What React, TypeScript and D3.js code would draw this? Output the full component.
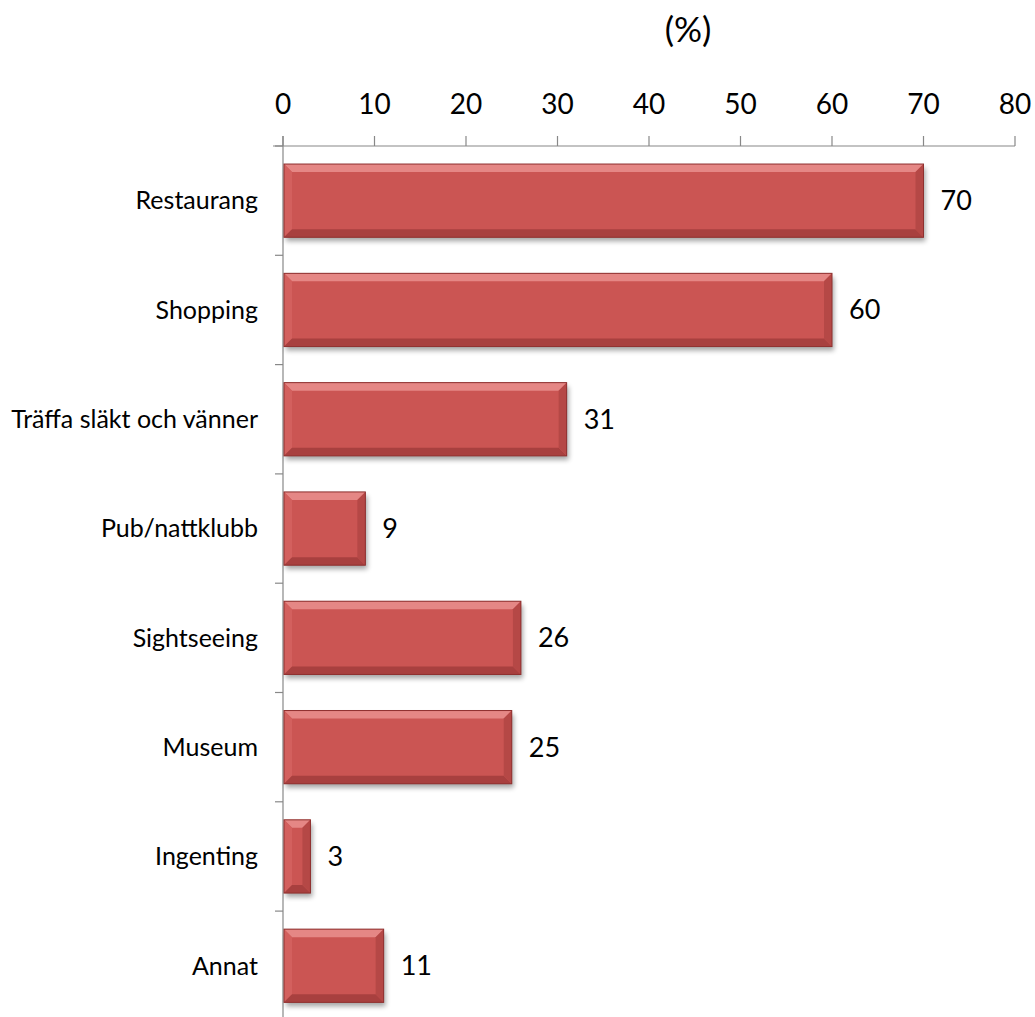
import React from "react";
import * as d3 from "d3";

const categories = ["Restaurang", "Shopping", "Träffa släkt och vänner", "Pub/nattklubb", "Sightseeing", "Museum", "Ingenting", "Annat"];
const values = [70, 60, 31, 9, 26, 25, 3, 11];
const xTicks = [0, 10, 20, 30, 40, 50, 60, 70, 80];
const title = "(%)";

export default function App() {
  const W = 1035, H = 1017;
  const x = d3.scaleLinear().domain([0, 80]).range([283, 1015]);
  const y = d3.scaleBand<string>().domain(categories).range([146, 146 + 8 * 109.3]).paddingInner(0.33).paddingOuter(0.165);
  const font = "Lato, 'Open Sans', sans-serif";
  const b = 8;
  return (
    <svg width={W} height={H} style={{ position: "absolute", left: 0, top: 0, background: "#fff" }}>
      <defs>
        <filter id="sh" x="-10%" y="-20%" width="130%" height="160%">
          <feGaussianBlur stdDeviation="2.5" />
        </filter>
      </defs>
      <text x={688} y={42} fontFamily={font} fontSize={35} textAnchor="middle" fill="#000">{title}</text>
      {xTicks.map(t => (
        <g key={t}>
          <text x={x(t)} y={114} fontFamily={font} fontSize={28} textAnchor="middle" fill="#000">{t}</text>
          <line x1={x(t)} x2={x(t)} y1={136} y2={146} stroke="#888" strokeWidth={1.2} />
        </g>
      ))}
      <line x1={x(0) - 10} x2={x(80)} y1={146} y2={146} stroke="#888" strokeWidth={1.2} />
      <line x1={x(0)} x2={x(0)} y1={136} y2={H} stroke="#888" strokeWidth={1.2} />
      {categories.map((c, i) => {
        const yb = 146 + i * 109.3;
        return <line key={"t" + i} x1={x(0) - 8} x2={x(0)} y1={yb} y2={yb} stroke="#888" strokeWidth={1.2} />;
      })}
      {categories.map((c, i) => {
        const x0 = x(0) + 1, x1 = x(values[i]);
        const y0 = y(c)!, h = y.bandwidth(), y1 = y0 + h;
        const bb = Math.min(b, (x1 - x0) / 2);
        return (
          <g key={c}>
            <rect x={x0 + 2} y={y0 + 4} width={x1 - x0} height={h} fill="#000" opacity={0.35} filter="url(#sh)" />
            <rect x={x0} y={y0} width={x1 - x0} height={h} fill="#CB5553" />
            <polygon points={`${x0},${y0} ${x1},${y0} ${x1 - bb},${y0 + bb} ${x0 + bb},${y0 + bb}`} fill="#E58785" />
            <polygon points={`${x0},${y0} ${x0 + bb},${y0 + bb} ${x0 + bb},${y1 - bb} ${x0},${y1}`} fill="#D3605E" />
            <polygon points={`${x0},${y1} ${x0 + bb},${y1 - bb} ${x1 - bb},${y1 - bb} ${x1},${y1}`} fill="#A8403F" />
            <polygon points={`${x1},${y0} ${x1},${y1} ${x1 - bb},${y1 - bb} ${x1 - bb},${y0 + bb}`} fill="#B54846" />
            <rect x={x0} y={y0} width={x1 - x0} height={h} fill="none" stroke="#8E302F" strokeWidth={1} />
            <text x={x1 + 17} y={y0 + h / 2} dy="0.35em" fontFamily={font} fontSize={27} fill="#000">{values[i]}</text>
            <text x={258} y={y0 + h / 2} dy="0.35em" fontFamily={font} fontSize={25} textAnchor="end" fill="#000">{c}</text>
          </g>
        );
      })}
    </svg>
  );
}
